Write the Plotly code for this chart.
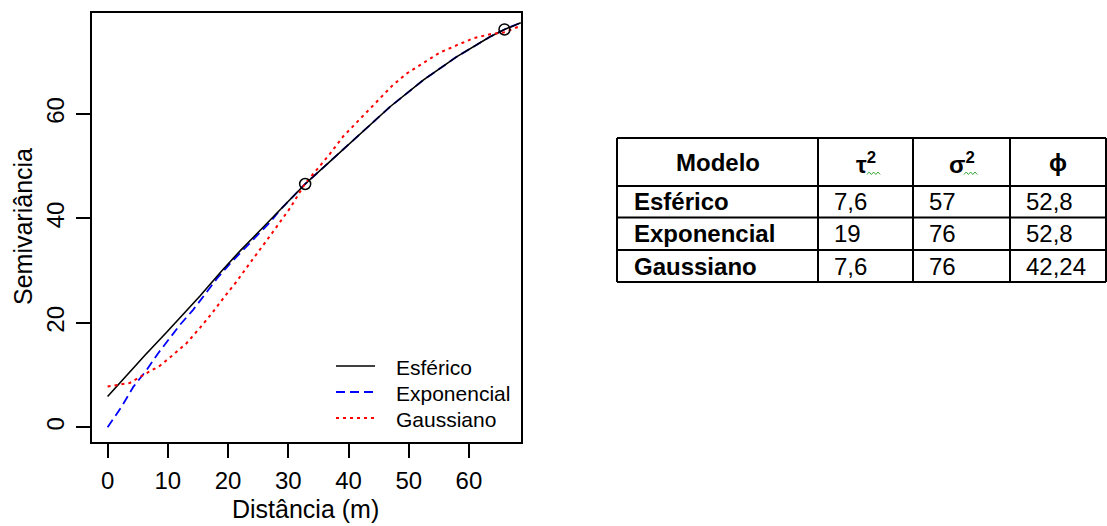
import plotly.graph_objects as go

# ---- data ----
esf_x = [0, 2.6, 6.2, 9.8, 13.7, 15.3, 18.9, 22.0, 25.3, 28.6, 30.3, 32.8, 36.9, 41.4, 46.9, 52.4, 58.0, 63.5, 65.9, 68.6]
esf_y = [5.9, 9.3, 13.8, 18.2, 23.1, 25.1, 29.9, 33.8, 37.7, 41.6, 43.6, 46.6, 50.9, 55.7, 61.4, 66.5, 71.0, 74.8, 76.2, 77.5]

exp_x = [0, 0.95, 2.3, 4.3, 6.5, 8.4, 10.4, 12.0, 14.2, 16.2, 18.1, 20.6, 22.8, 24.8, 27.0, 28.6, 30.3, 32.8, 36.9, 41.4, 46.9, 52.4, 58.0, 63.5, 65.9, 68.6]
exp_y = [0.0, 1.7, 3.9, 7.8, 11.0, 14.2, 17.1, 19.6, 22.5, 25.5, 28.4, 31.7, 34.3, 36.8, 39.3, 41.6, 43.6, 46.6, 50.9, 55.7, 61.4, 66.5, 71.0, 74.8, 76.2, 77.5]

gau_x = [0, 3.7, 5.9, 8.7, 10.9, 13.1, 15.3, 17.3, 19.2, 21.4, 23.6, 25.9, 27.5, 30.3, 32.8, 34.7, 37.0, 39.1, 41.4, 43.6, 45.8, 47.4, 49.7, 52.4, 55.2, 58.0, 60.7, 63.5, 65.7, 68.6]
gau_y = [7.8, 8.5, 10.0, 11.8, 13.9, 16.1, 19.0, 21.8, 24.7, 27.9, 31.4, 34.9, 37.5, 42.0, 46.7, 49.3, 52.5, 55.7, 58.5, 61.1, 63.7, 65.6, 67.8, 69.7, 71.8, 73.2, 74.5, 75.3, 75.6, 76.9]

pts_x = [32.8, 65.9]
pts_y = [46.6, 76.2]

x_ticks = [0, 10, 20, 30, 40, 50, 60]
y_ticks = [0, 20, 40, 60]

series_names = ["Esférico", "Exponencial", "Gaussiano"]

tab_header = ["<b>Modelo</b>", "<b>τ<sup>2</sup></b>", "<b>σ<sup>2</sup></b>", "<b>ϕ</b>"]
tab_modelo = ["Esférico", "Exponencial", "Gaussiano"]
tab_tau2 = ["7,6", "19", "7,6"]
tab_sigma2 = ["57", "76", "76"]
tab_phi = ["52,8", "52,8", "42,24"]

W, H = 1107, 526
FONT = "Liberation Sans, Arial, sans-serif"


def px(x):
    return x / W


def py(y):
    return 1 - y / H


styles = [
    dict(color="black", width=1.6, dash="solid"),
    dict(color="#0000FF", width=1.8, dash="9px,5px"),
    dict(color="#FF0000", width=2, dash="3px,4px"),
]

fig = go.Figure()
# blue drawn first so the black solid line sits on top where they coincide
fig.add_trace(go.Scatter(x=exp_x, y=exp_y, mode="lines", name=series_names[1], showlegend=False,
                         line=styles[1]))
fig.add_trace(go.Scatter(x=esf_x, y=esf_y, mode="lines", name=series_names[0], showlegend=False,
                         line=styles[0]))
fig.add_trace(go.Scatter(x=gau_x, y=gau_y, mode="lines", name=series_names[2], showlegend=False,
                         line=styles[2]))
fig.add_trace(go.Scatter(x=pts_x, y=pts_y, mode="markers", showlegend=False,
                         marker=dict(symbol="circle-open", size=11, color="black",
                                     line=dict(width=1.5, color="black"))))

axis_common = dict(showline=True, mirror=True, linecolor="black", linewidth=2,
                   ticks="outside", ticklen=14, tickwidth=2, tickcolor="black",
                   showgrid=False, zeroline=False,
                   tickfont=dict(family=FONT, size=24, color="black"))

fig.update_layout(
    width=W, height=H, autosize=False,
    margin=dict(l=0, r=0, t=0, b=0),
    paper_bgcolor="white", plot_bgcolor="white",
    showlegend=False,
    xaxis=dict(domain=[px(91.7), px(521)], range=[-2.64, 68.64],
               tickvals=x_ticks, ticklabelstandoff=2, **axis_common),
    yaxis=dict(domain=[py(441.7), py(13.3)], range=[-2.76, 79.3],
               tickvals=y_ticks, tickangle=-90, ticklabelstandoff=2, **axis_common),
)

ann = []
shapes = []
# axis titles
ann.append(dict(text="Distância (m)", x=px(305), y=py(509), xref="paper", yref="paper",
                xanchor="center", yanchor="middle", showarrow=False,
                font=dict(family=FONT, size=25, color="black")))
ann.append(dict(text="Semivariância", x=px(23), y=py(227), xref="paper", yref="paper",
                xanchor="center", yanchor="middle", showarrow=False, textangle=-90,
                font=dict(family=FONT, size=25, color="black")))

# ---- legend (no box, as in the reference) ----
leg_rows = [366, 392, 418]
for name, st, yy in zip(series_names, styles, leg_rows):
    shapes.append(dict(type="line", xref="paper", yref="paper", x0=px(336), x1=px(375),
                       y0=py(yy), y1=py(yy), line=dict(color=st["color"], width=st["width"],
                                                       dash=st["dash"])))
    ann.append(dict(text=name, x=px(394), y=py(yy + 1), xref="paper", yref="paper",
                    xanchor="left", yanchor="middle", showarrow=False,
                    font=dict(family=FONT, size=21, color="black")))

# ---- table ----
col_x = [617, 818, 913, 1010, 1106]
row_y = [138, 186, 217.5, 250, 282]
for xv in col_x:
    shapes.append(dict(type="line", xref="paper", yref="paper", x0=px(xv), x1=px(xv),
                       y0=py(row_y[0]), y1=py(row_y[-1]), line=dict(color="black", width=2)))
for yv in row_y:
    shapes.append(dict(type="line", xref="paper", yref="paper", x0=px(col_x[0]), x1=px(col_x[-1]),
                       y0=py(yv), y1=py(yv), line=dict(color="black", width=2)))

head_y = (row_y[0] + row_y[1]) / 2 + 1
for i, h in enumerate(tab_header):
    ann.append(dict(text=h, x=px((col_x[i] + col_x[i + 1]) / 2), y=py(head_y),
                    xref="paper", yref="paper", xanchor="center", yanchor="middle",
                    showarrow=False, font=dict(family=FONT, size=24, color="black")))

columns = [["<b>%s</b>" % m for m in tab_modelo], tab_tau2, tab_sigma2, tab_phi]
pads = [15, 14, 14, 14]
for r in range(3):
    yc = (row_y[r + 1] + row_y[r + 2]) / 2
    for c in range(4):
        ann.append(dict(text=columns[c][r], x=px(col_x[c] + pads[c]), y=py(yc),
                        xref="paper", yref="paper", xanchor="left", yanchor="middle",
                        showarrow=False, font=dict(family=FONT, size=24, color="black")))

# green spell-check squiggles under header superscripts
for x0 in (867, 964):
    pts = []
    for k in range(7):
        xx = x0 + k * 2.2
        yy = 174.5 if k % 2 == 0 else 172
        pts.append("%s%.5f,%.5f" % ("M" if k == 0 else "L", px(xx), py(yy)))
    shapes.append(dict(type="path", xref="paper", yref="paper", path=" ".join(pts),
                       line=dict(color="#3aa83a", width=1)))

fig.update_layout(annotations=ann, shapes=shapes)
fig.write_html("out.html")
